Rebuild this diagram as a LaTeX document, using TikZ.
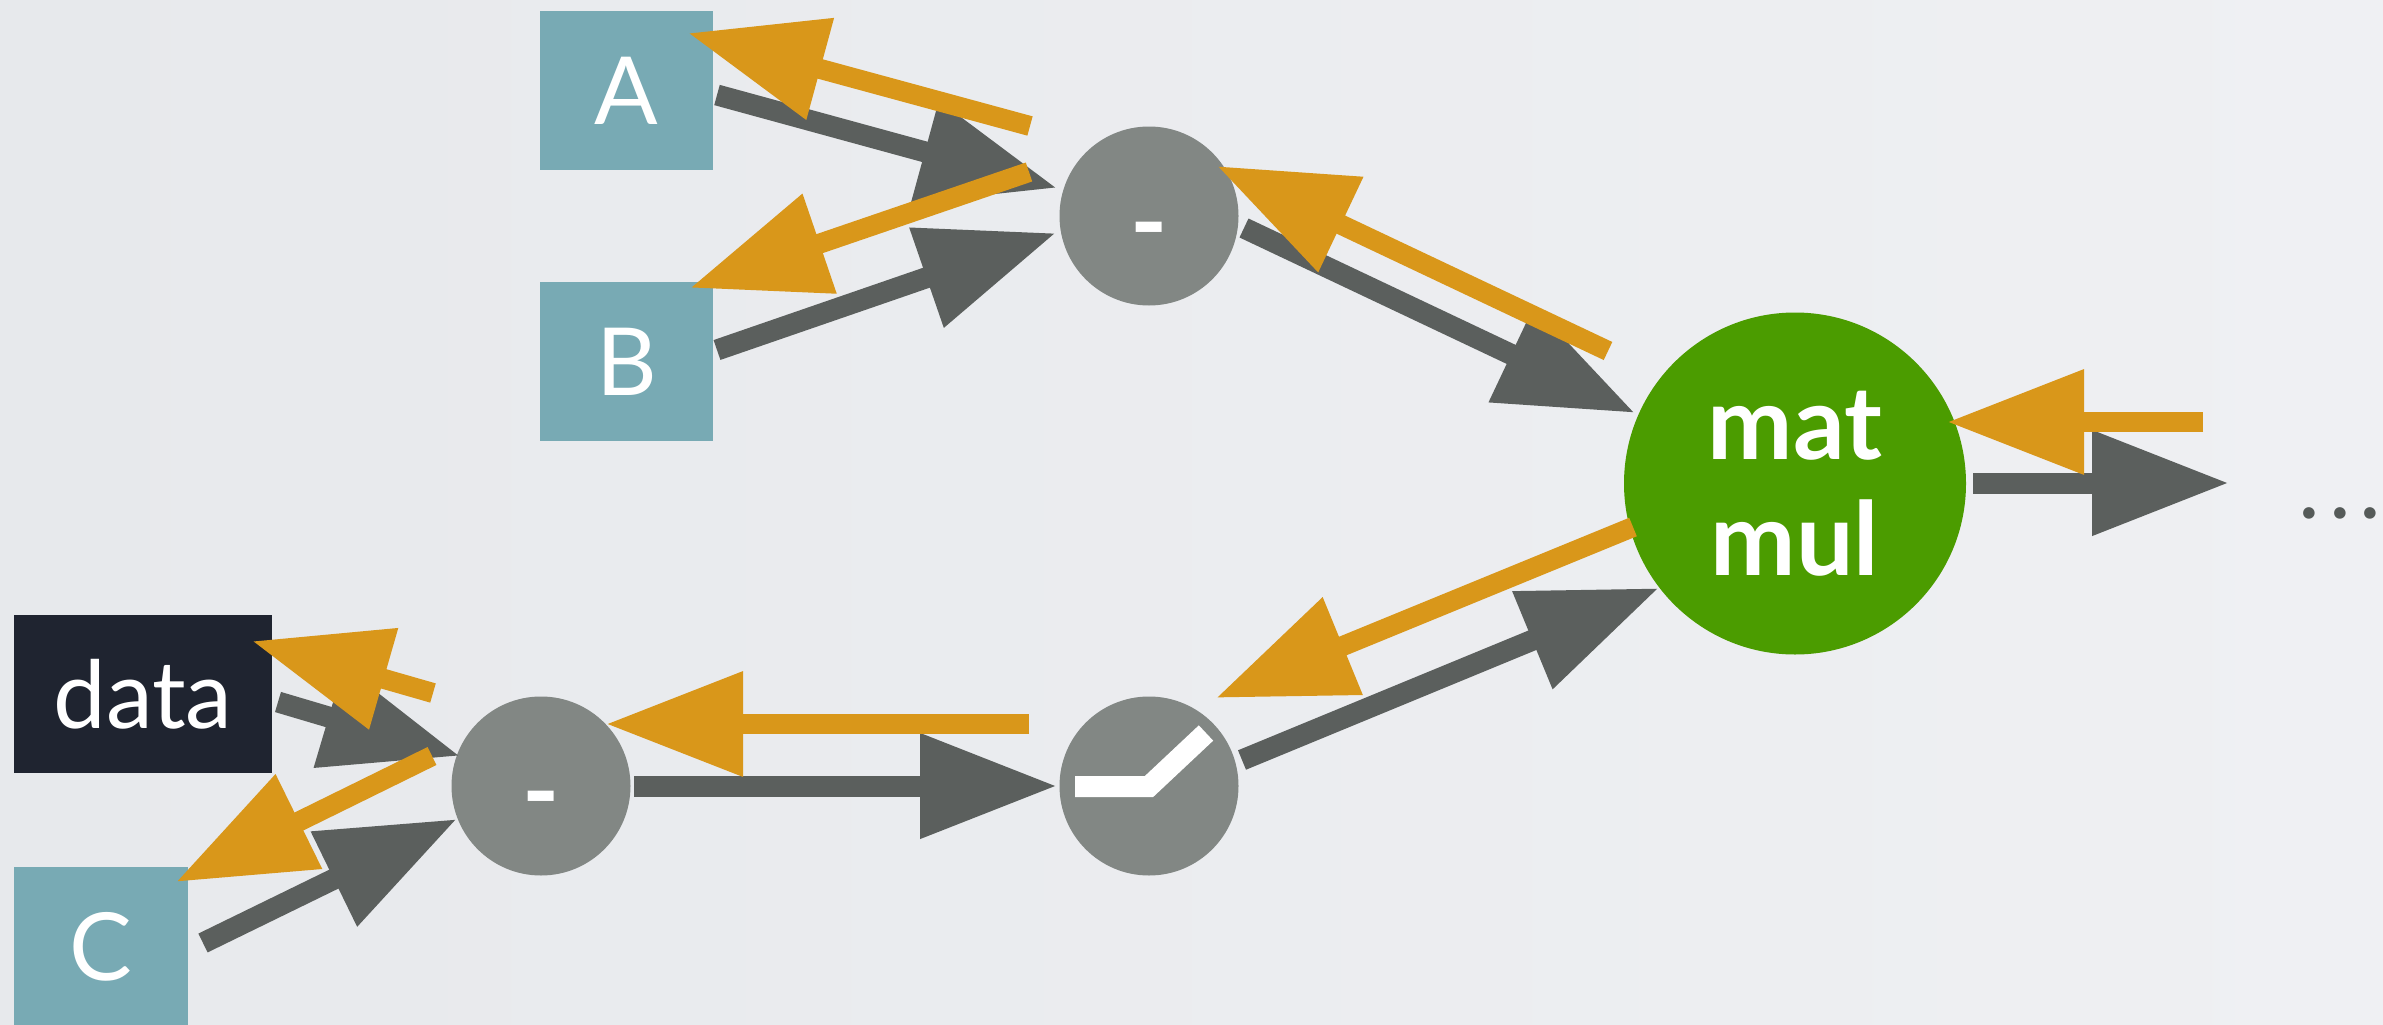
\documentclass[tikz,border=0pt]{standalone}
\usepackage{fontspec}
\setmainfont{Lato}
\usetikzlibrary{arrows.meta,calc}
\definecolor{bgL}{HTML}{E7E9EC}
\definecolor{bgR}{HTML}{EFF0F3}
\definecolor{teal}{HTML}{78AAB4}
\definecolor{navy}{HTML}{1F2430}
\definecolor{opgray}{HTML}{828784}
\definecolor{mmgreen}{HTML}{4B9C00}
\definecolor{argray}{HTML}{5B5F5D}
\definecolor{orng}{HTML}{D9971A}
\definecolor{dotgray}{HTML}{555A58}
\begin{document}
\begin{tikzpicture}[x=1pt,y=-1pt,
  box/.style={rectangle, minimum width=173pt, minimum height=159pt, inner sep=0pt, text=white, font=\fontsize{94}{94}\selectfont},
  opnode/.style={circle, fill=opgray, minimum size=179pt, inner sep=0pt},
  oplabel/.style={text=white, inner sep=0pt, font=\fontsize{100}{100}\selectfont\bfseries},
  garrow/.style={draw=argray, line width=21pt, -{Triangle[length=137pt,width=100pt]}},
  oarrow/.style={draw=orng, line width=20pt, -{Triangle[length=137pt,width=100pt]}},
]
\useasboundingbox (0,0) rectangle (2383,1025);
\fill[left color=bgL, right color=bgR] (0,0) rectangle (2383,1025);

% nodes
\node[box, fill=teal] (A) at (626.5,90.5) {A};
\node[box, fill=teal] (B) at (626.5,361.5) {B};
\node[box, fill=navy, minimum width=258pt, minimum height=158pt] (data) at (143,694) {data};
\node[box, fill=teal, minimum width=174pt] (C) at (101,946.5) {C};
\node[opnode] (m1) at (1149,216) {};
\node[opnode] (m2) at (541,786) {};
\node[opnode] (ck) at (1149,786) {};
\node[circle, fill=mmgreen, minimum size=342pt, inner sep=0pt, text=white, align=center,
      font=\fontsize{102}{116}\selectfont\bfseries] (mm) at (1795,483.5) {mat\\mul};
\node[text=dotgray, inner sep=0pt, font=\fontsize{92}{92}\selectfont] (dots) at (2340,513) {.\kern9pt.\kern9pt.};

\node[oplabel, anchor=base] (m1lab) at ($(m1)+(0,41)$) {-};
\node[oplabel, anchor=base] (m2lab) at ($(m2)+(0,40)$) {-};
\draw[white, line width=21pt, line join=miter] ($(ck)+(-74,0.5)$) -- ($(ck)+(0,0.5)$) -- ($(ck)+(57,-53)$);

% forward (gray) arrows
\draw[garrow] ($(A)+(90.5,4.5)$) -- ($(m1)+(-92,-28)$);
\draw[garrow] ($(B)+(90.5,-11.5)$) -- ($(m1)+(-93,17)$);
\draw[garrow] ($(m1)+(95,12)$) -- ($(mm)+(-160,-70.5)$);
\draw[garrow] ($(m2)+(93,0)$) -- ($(ck)+(-92,0)$);
\draw[garrow] ($(ck)+(93,-26)$) -- ($(mm)+(-136,104.5)$);
\draw[garrow] ($(mm)+(178,-0.5)$) -- ($(dots)+(-111,-30)$);
\draw[garrow] ($(data)+(135,8)$) -- ($(m2)+(-81,-30)$);
\draw[garrow] ($(C)+(102,-3.5)$) -- ($(m2)+(-84,33)$);

% backward (orange) arrows
\draw[oarrow] ($(m1)+(-119,-90)$) -- ($(A)+(61.5,-57.5)$);
\draw[oarrow] ($(m1)+(-120,-44)$) -- ($(B)+(63.5,-73.5)$);
\draw[oarrow] ($(mm)+(-187,-132.5)$) -- ($(m1)+(68,-50)$);
\draw[oarrow] ($(dots)+(-137,-91)$) -- ($(mm)+(152,-61.5)$);
\draw[oarrow] ($(mm)+(-162,43.5)$) -- ($(ck)+(67,-88)$);
\draw[oarrow] ($(ck)+(-120,-62)$) -- ($(m2)+(65,-62)$);
\draw[oarrow] ($(m2)+(-108,-93)$) -- ($(data)+(109,-53)$);
\draw[oarrow] ($(m2)+(-109,-30)$) -- ($(C)+(75,-64.5)$);
\end{tikzpicture}
\end{document}
